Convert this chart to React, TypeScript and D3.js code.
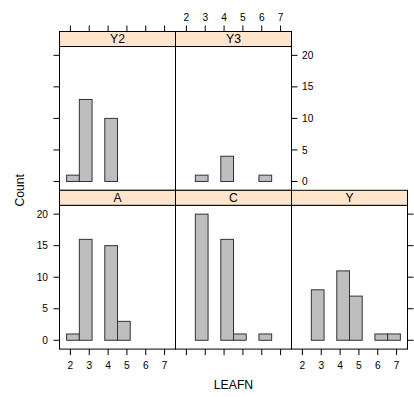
import React from 'react';
import * as d3 from 'd3';

// LEAFN values and counts per panel (index matches leafValues)
const leafValues = [2, 3, 4, 5, 6, 7];
const countsY2 = [1, 13, 10, 0, 0, 0];
const countsY3 = [0, 1, 4, 0, 1, 0];
const countsA = [1, 16, 15, 3, 0, 0];
const countsC = [0, 20, 16, 1, 1, 0];
const countsY = [0, 8, 11, 7, 1, 1];

const xTicks = [2, 3, 4, 5, 6, 7];
const yTicks = [0, 5, 10, 15, 20];

const panels = [
  { name: 'Y2', row: 0, col: 0, counts: countsY2 },
  { name: 'Y3', row: 0, col: 1, counts: countsY3 },
  { name: 'A', row: 1, col: 0, counts: countsA },
  { name: 'C', row: 1, col: 1, counts: countsC },
  { name: 'Y', row: 1, col: 2, counts: countsY },
];

const W = 414;
const H = 397;
const left = 59.5;
const panelW = 116;
const top = 31.5;
const stripH = 15;
const plotH = 143.8;
const rowH = stripH + plotH;
const FONT = '"Liberation Sans", Arial, Helvetica, sans-serif';

// lattice-style breaks: range extended by 4%, 8 intervals
const lo = d3.min(leafValues)! - 0.04 * (d3.max(leafValues)! - d3.min(leafValues)!);
const hi = d3.max(leafValues)! + 0.04 * (d3.max(leafValues)! - d3.min(leafValues)!);
const nint = 8;
const breaks = d3.range(nint + 1).map(i => lo + (hi - lo) * i / nint);

const pad = 0.07 * (hi - lo);
const x = d3.scaleLinear().domain([lo - pad, hi + pad]).range([0, panelW]);
const y = d3.scaleLinear().domain([-1.4, 21.4]).range([plotH, 0]);

const binCounts = (counts: number[]) => {
  const bins = new Array(nint).fill(0);
  leafValues.forEach((v, i) => {
    const b = Math.min(nint - 1, d3.bisectRight(breaks, v) - 1);
    bins[b] += counts[i];
  });
  return bins;
};

const tickStyle = { fontFamily: FONT, fontSize: 10.2, fill: '#000' } as const;

export default function App() {
  const px = (col: number) => left + col * panelW;
  const plotTop = (row: number) => top + row * rowH + stripH;
  const bottomY = plotTop(1) + plotH;

  return (
    <svg width={W} height={H} style={{ position: 'absolute', left: 0, top: 0, background: '#fff' }}>
      {panels.map(p => {
        const ox = px(p.col);
        const oy = plotTop(p.row);
        const bins = binCounts(p.counts);
        return (
          <g key={p.name}>
            <g transform={`translate(${ox},${oy})`}>
              {bins.map((c, i) => (
                <rect
                  key={i}
                  x={x(breaks[i])}
                  y={y(c)}
                  width={x(breaks[i + 1]) - x(breaks[i])}
                  height={y(0) - y(c)}
                  fill="#bebebe"
                  stroke="#333"
                  strokeWidth={1}
                />
              ))}
              <rect x={0} y={0} width={panelW} height={plotH} fill="none" stroke="#000" strokeWidth={1} />
            </g>
            <g transform={`translate(${ox},${oy - stripH})`}>
              <rect x={0} y={0} width={panelW} height={stripH} fill="#ffe5cc" stroke="#000" strokeWidth={1} />
              <text x={panelW / 2} y={stripH / 2 + 4.4} textAnchor="middle" style={{ fontFamily: FONT, fontSize: 12.2 }}>
                {p.name}
              </text>
            </g>
          </g>
        );
      })}

      {/* bottom x axes */}
      {[0, 1, 2].map(col => (
        <g key={`bx${col}`} transform={`translate(${px(col)},${bottomY})`}>
          {xTicks.map(t => (
            <g key={t}>
              <line x1={x(t)} x2={x(t)} y1={0} y2={6} stroke="#000" />
              {col !== 1 && (
                <text x={x(t)} y={20} textAnchor="middle" style={tickStyle}>{t}</text>
              )}
            </g>
          ))}
        </g>
      ))}

      {/* top x axes */}
      {[0, 1].map(col => (
        <g key={`tx${col}`} transform={`translate(${px(col)},${top})`}>
          {xTicks.map(t => (
            <g key={t}>
              <line x1={x(t)} x2={x(t)} y1={0} y2={-6} stroke="#000" />
              {col === 1 && (
                <text x={x(t)} y={-11} textAnchor="middle" style={tickStyle}>{t}</text>
              )}
            </g>
          ))}
        </g>
      ))}

      {/* left y axes */}
      {[0, 1].map(row => (
        <g key={`ly${row}`} transform={`translate(${left},${plotTop(row)})`}>
          {yTicks.map(t => (
            <g key={t}>
              <line x1={0} x2={-6} y1={y(t)} y2={y(t)} stroke="#000" />
              {row === 1 && (
                <text x={-11.5} y={y(t) + 3.6} textAnchor="end" style={tickStyle}>{t}</text>
              )}
            </g>
          ))}
        </g>
      ))}

      {/* right y axes */}
      {[0, 1].map(row => (
        <g key={`ry${row}`} transform={`translate(${px(row === 0 ? 2 : 3)},${plotTop(row)})`}>
          {yTicks.map(t => (
            <g key={t}>
              <line x1={0} x2={6} y1={y(t)} y2={y(t)} stroke="#000" />
              {row === 0 && (
                <text x={10.5} y={y(t) + 3.6} textAnchor="start" style={tickStyle}>{t}</text>
              )}
            </g>
          ))}
        </g>
      ))}

      <text
        transform={`translate(24,${(top + bottomY) / 2}) rotate(-90)`}
        textAnchor="middle"
        style={{ fontFamily: FONT, fontSize: 12.2 }}
      >
        Count
      </text>
      <text x={left + 1.5 * panelW} y={389} textAnchor="middle" style={{ fontFamily: FONT, fontSize: 12.2 }}>
        LEAFN
      </text>
    </svg>
  );
}
